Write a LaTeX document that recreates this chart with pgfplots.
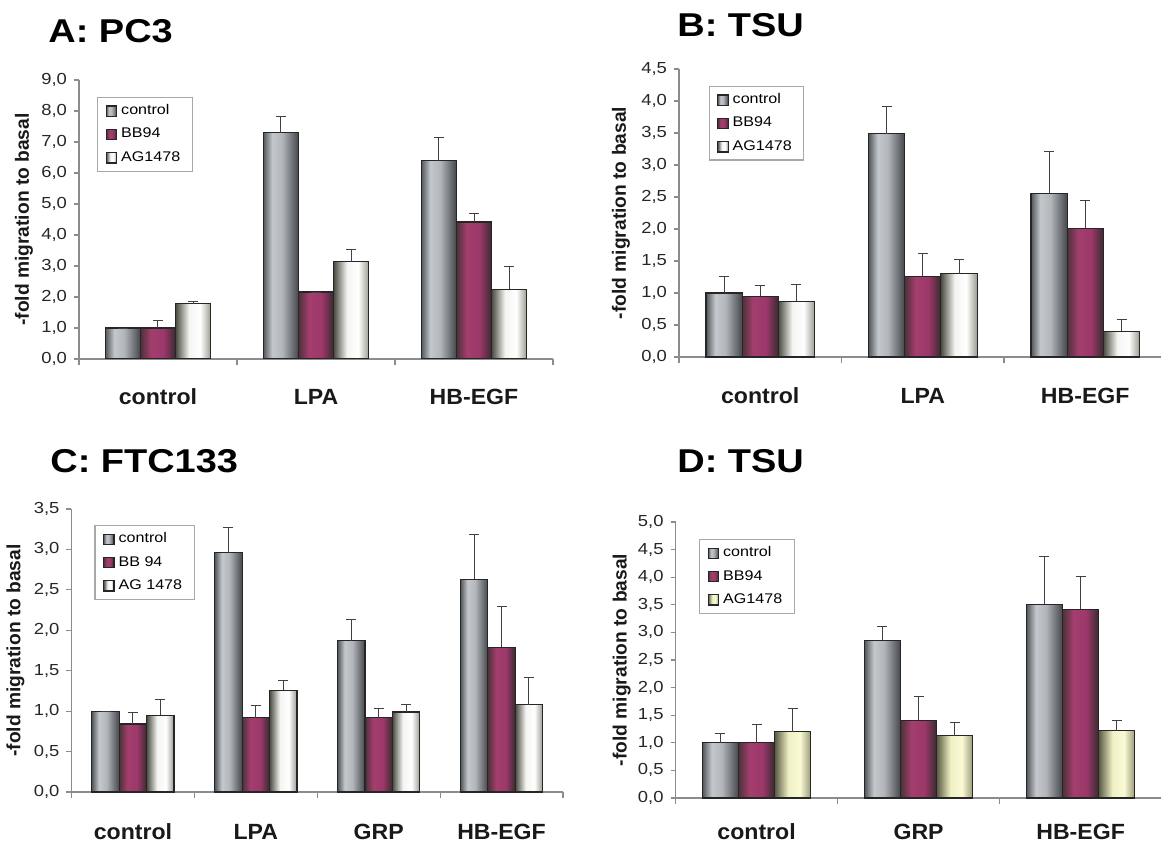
\documentclass[border=0pt]{standalone}
\usepackage{pgfplots}
\pgfplotsset{compat=1.18}
\usepackage{fontspec}
\setmainfont{Liberation Sans}
\newfontfamily\stf[FakeStretch=1.15]{Liberation Sans}
\newfontfamily\catfam[FakeStretch=1.05]{Liberation Sans}

\definecolor{axisgray}{HTML}{8C8C8C}
\definecolor{leggray}{HTML}{A8A8A8}
\definecolor{gA}{HTML}{50565A}\definecolor{gB}{HTML}{C4C8CC}\definecolor{gC}{HTML}{B2B6BA}\definecolor{gD}{HTML}{44484C}
\definecolor{mA}{HTML}{4C3238}\definecolor{mB}{HTML}{A33E6E}\definecolor{mC}{HTML}{9C386A}\definecolor{mD}{HTML}{3A2A30}
\definecolor{wA}{HTML}{4A4C40}\definecolor{wB}{HTML}{F4F4F2}\definecolor{wC}{HTML}{FFFFFF}\definecolor{wD}{HTML}{9A9C90}
\definecolor{yA}{HTML}{5A5A44}\definecolor{yB}{HTML}{F0F0C4}\definecolor{yC}{HTML}{FAFAD6}\definecolor{yD}{HTML}{9A9A78}
\definecolor{barline}{HTML}{262626}

\pgfdeclarehorizontalshading{ctrlsh}{100bp}{color(0bp)=(gA); color(25bp)=(gA); color(38bp)=(gB); color(52bp)=(gC); color(75bp)=(gD); color(100bp)=(gD)}
\pgfdeclarehorizontalshading{bbsh}{100bp}{color(0bp)=(mA); color(25bp)=(mA); color(40bp)=(mB); color(58bp)=(mC); color(75bp)=(mD); color(100bp)=(mD)}
\pgfdeclarehorizontalshading{agsh}{100bp}{color(0bp)=(wA); color(25bp)=(wA); color(44bp)=(wB); color(60bp)=(wC); color(75bp)=(wD); color(100bp)=(wD)}
\pgfdeclarehorizontalshading{aysh}{100bp}{color(0bp)=(yA); color(25bp)=(yA); color(44bp)=(yB); color(60bp)=(yC); color(75bp)=(yD); color(100bp)=(yD)}

\pgfplotsset{
  panel/.style={
    scale only axis,
    axis lines*=left,
    axis line style={draw=axisgray, line width=0.6pt},
    tick style={draw=axisgray, line width=0.6pt},
    tick align=outside,
    major tick length=2.5pt,
    minor tick length=3pt,
    major x tick style={draw=none},
    ymin=0,
    ybar, bar width=0.223,
    yticklabel style={font=\stf\fontsize{8}{9}\selectfont, color=black!85,
      /pgf/number format/.cd, fixed, fixed zerofill, precision=1, use comma, assume math mode=true},
    xticklabel style={font=\catfam\bfseries\fontsize{11}{12}\selectfont, color=black!90, anchor=base, inner sep=0pt, yshift=-20.5pt},
    ylabel={-fold migration to basal},
    ylabel style={font=\bfseries\fontsize{9.6}{11}\selectfont, color=black!90, anchor=center},
    legend style={anchor=north west, draw=leggray, line width=0.6pt,
      font=\stf\fontsize{7}{8}\selectfont, inner xsep=4pt, inner ysep=1.5pt,
      row sep=1.2pt, cells={anchor=west}},
    legend image code/.code={\draw[##1] (0pt,-2.6pt) rectangle (5.2pt,2.6pt);},
    error bars/y dir=plus,
    error bars/y explicit,
    error bars/error bar style={line width=0.5pt, draw=black!75},
    error bars/error mark options={rotate=90, line width=0.5pt, draw=black!75, mark size=2.5pt},
  },
  sc/.style={draw=barline, line width=0.6pt, shade, shading=ctrlsh, bar shift=-0.223},
  sb/.style={draw=barline, line width=0.6pt, shade, shading=bbsh, bar shift=0},
  sa/.style={draw=barline, line width=0.6pt, shade, shading=agsh, bar shift=0.223},
  sy/.style={draw=barline, line width=0.6pt, shade, shading=aysh, bar shift=0.223},
}

\begin{document}
\begin{tikzpicture}
\useasboundingbox (0,0) rectangle (580.5pt,-422pt);

% ---------- A: PC3
\node[anchor=base west, inner sep=0, font=\stf\bfseries\fontsize{16.5}{18}\selectfont] at (24pt,-21.5pt) {A: PC3};
\begin{axis}[panel, at={(39.5pt,-179.5pt)}, anchor=south west,
  width=237pt, height=139.5pt,
  xmin=-0.5, xmax=2.5, ymax=9, ytick={0,1,...,9},
  xtick={0,1,2}, xticklabels={control,LPA,HB-EGF},
  minor xtick={-0.5,0.5,1.5,2.5},
  ylabel style={at={(axis description cs:-0.116,0.5)}},
  legend style={at={(0.038,0.939)}}]
\addplot[sc] coordinates {(0,1.00) +- (0,0)};
\addplot[sb] coordinates {(0,1.00) +- (0,0.23)};
\addplot[sa] coordinates {(0,1.78) +- (0,0.07)};
\addplot[sc,forget plot] coordinates {(1,7.30) +- (0,0.51)};
\addplot[sb,forget plot] coordinates {(1,2.16) +- (0,0)};
\addplot[sa,forget plot] coordinates {(1,3.14) +- (0,0.39)};
\addplot[sc,forget plot] coordinates {(2,6.40) +- (0,0.74)};
\addplot[sb,forget plot] coordinates {(2,4.42) +- (0,0.28)};
\addplot[sa,forget plot] coordinates {(2,2.25) +- (0,0.73)};
\legend{control,BB94,AG1478}
\end{axis}

% ---------- B: TSU
\node[anchor=base west, inner sep=0, font=\stf\bfseries\fontsize{16.5}{18}\selectfont] at (338.5pt,-18.5pt) {B: TSU};
\begin{axis}[panel, at={(339.5pt,-178.5pt)}, anchor=south west,
  width=243.75pt, height=144pt,
  xmin=-0.5, xmax=2.5, ymax=4.5, ytick={0,0.5,...,4.5},
  xtick={0,1,2}, xticklabels={control,LPA,HB-EGF},
  minor xtick={-0.5,0.5,1.5,2.5},
  ylabel style={at={(axis description cs:-0.119,0.5)}},
  legend style={at={(0.0605,0.941)}}]
\addplot[sc] coordinates {(0,1.00) +- (0,0.26)};
\addplot[sb] coordinates {(0,0.95) +- (0,0.16)};
\addplot[sa] coordinates {(0,0.87) +- (0,0.27)};
\addplot[sc,forget plot] coordinates {(1,3.49) +- (0,0.43)};
\addplot[sb,forget plot] coordinates {(1,1.26) +- (0,0.35)};
\addplot[sa,forget plot] coordinates {(1,1.30) +- (0,0.23)};
\addplot[sc,forget plot] coordinates {(2,2.56) +- (0,0.65)};
\addplot[sb,forget plot] coordinates {(2,2.01) +- (0,0.43)};
\addplot[sa,forget plot] coordinates {(2,0.40) +- (0,0.18)};
\legend{control,BB94,AG1478}
\end{axis}

% ---------- C: FTC133
\node[anchor=base west, inner sep=0, font=\stf\bfseries\fontsize{16.5}{18}\selectfont] at (25pt,-236pt) {C: FTC133};
\begin{axis}[panel, at={(35.75pt,-396pt)}, anchor=south west,
  width=245.75pt, height=141.5pt,
  xmin=-0.5, xmax=3.5, ymax=3.5, ytick={0,0.5,...,3.5},
  xtick={0,1,2,3}, xticklabels={control,LPA,GRP,HB-EGF},
  minor xtick={-0.5,0.5,1.5,2.5,3.5},
  xticklabel style={yshift=-0.5pt},
  ylabel style={at={(axis description cs:-0.114,0.5)}},
  legend style={at={(0.0466,0.943)}}]
\addplot[sc] coordinates {(0,1.00) +- (0,0)};
\addplot[sb] coordinates {(0,0.84) +- (0,0.14)};
\addplot[sa] coordinates {(0,0.95) +- (0,0.19)};
\addplot[sc,forget plot] coordinates {(1,2.96) +- (0,0.31)};
\addplot[sb,forget plot] coordinates {(1,0.92) +- (0,0.15)};
\addplot[sa,forget plot] coordinates {(1,1.26) +- (0,0.12)};
\addplot[sc,forget plot] coordinates {(2,1.87) +- (0,0.26)};
\addplot[sb,forget plot] coordinates {(2,0.92) +- (0,0.11)};
\addplot[sa,forget plot] coordinates {(2,0.99) +- (0,0.09)};
\addplot[sc,forget plot] coordinates {(3,2.63) +- (0,0.55)};
\addplot[sb,forget plot] coordinates {(3,1.79) +- (0,0.50)};
\addplot[sa,forget plot] coordinates {(3,1.08) +- (0,0.33)};
\legend{control,BB 94,AG 1478}
\end{axis}

% ---------- D: TSU
\node[anchor=base west, inner sep=0, font=\stf\bfseries\fontsize{16.5}{18}\selectfont] at (338.5pt,-236pt) {D: TSU};
\begin{axis}[panel, at={(337.8pt,-399pt)}, anchor=south west,
  width=243pt, height=138pt,
  xmin=-0.5, xmax=2.5, ymax=5, ytick={0,0.5,...,5},
  xtick={0,1,2}, xticklabels={control,GRP,HB-EGF},
  minor xtick={-0.5,0.5,1.5,2.5},
  xticklabel style={yshift=2.5pt},
  ylabel style={at={(axis description cs:-0.111,0.5)}},
  legend style={at={(0.048,0.938)}}]
\addplot[sc] coordinates {(0,1.00) +- (0,0.17)};
\addplot[sb] coordinates {(0,1.00) +- (0,0.33)};
\addplot[sy] coordinates {(0,1.20) +- (0,0.42)};
\addplot[sc,forget plot] coordinates {(1,2.86) +- (0,0.25)};
\addplot[sb,forget plot] coordinates {(1,1.41) +- (0,0.43)};
\addplot[sy,forget plot] coordinates {(1,1.13) +- (0,0.24)};
\addplot[sc,forget plot] coordinates {(2,3.51) +- (0,0.86)};
\addplot[sb,forget plot] coordinates {(2,3.42) +- (0,0.59)};
\addplot[sy,forget plot] coordinates {(2,1.22) +- (0,0.18)};
\legend{control,BB94,AG1478}
\end{axis}
\end{tikzpicture}
\end{document}
